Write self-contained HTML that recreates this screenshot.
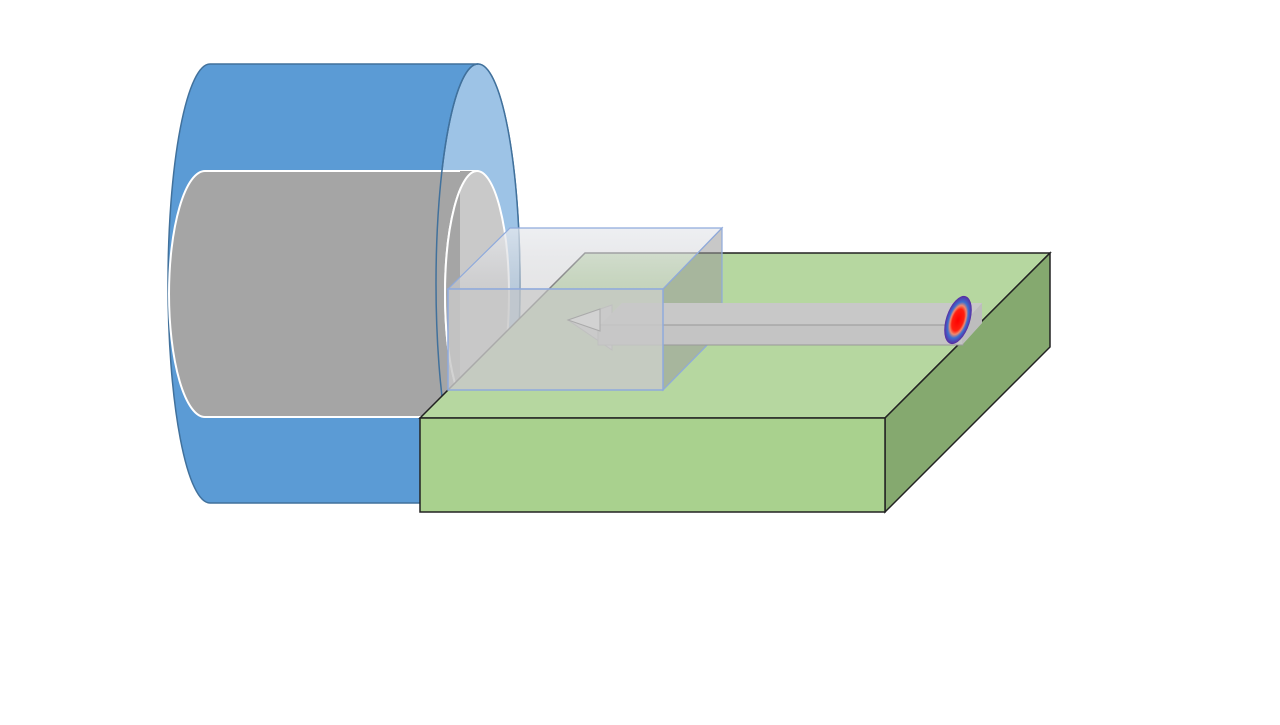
<!DOCTYPE html>
<html><head><style>html,body{margin:0;padding:0;background:#fff}</style></head><body>
<svg width="1280" height="720" viewBox="0 0 1280 720" xmlns="http://www.w3.org/2000/svg">
<defs>
<radialGradient id="src" cx="0.5" cy="0.5" r="0.5">
<stop offset="0" stop-color="#ff0000"/><stop offset="0.45" stop-color="#ff2010"/><stop offset="0.6" stop-color="#f08a70"/><stop offset="0.75" stop-color="#3c6fd0"/><stop offset="1" stop-color="#5a2aa0"/>
</radialGradient>
<linearGradient id="boxtop" x1="0" y1="0" x2="0" y2="1"><stop offset="0" stop-color="#e8eaee" stop-opacity="0.75"/><stop offset="1" stop-color="#d0d0d2" stop-opacity="0.55"/></linearGradient>
</defs>
<!-- blue cylinder -->
<path d="M210,64 L478,64 A42,219.5 0 0 1 478,503 L210,503 A42,219.5 0 0 1 210,64 Z" fill="#5b9bd5" stroke="#41719c" stroke-width="1.5"/>
<ellipse cx="478" cy="283.5" rx="42" ry="219.5" fill="#9dc3e6" stroke="#41719c" stroke-width="1.5"/>
<!-- grey cylinder -->
<path d="M205,171 L477,171 L477,417 L205,417 A36,123 0 0 1 205,171 Z" fill="#a5a5a5" stroke="#fff" stroke-width="2"/>
<ellipse cx="477" cy="294" rx="32" ry="123" fill="#c9c9c9" stroke="#fff" stroke-width="2"/>
<path d="M477,171 A32,123 0 0 0 477,417 L460,417 L460,171 Z" fill="#a5a5a5"/>
<path d="M477,171 A32,123 0 0 0 477,417" fill="none" stroke="#fff" stroke-width="2"/>
<path d="M478,64 A42,219.5 0 0 0 478,503" fill="none" stroke="#41719c" stroke-width="1.5"/>
<!-- green box -->
<polygon points="420,418 585,253 1050,253 885,418" fill="#b6d7a0" stroke="#222" stroke-width="1.5"/>
<polygon points="885,418 1050,253 1050,347 885,512" fill="#85a96f" stroke="#222" stroke-width="1.5"/>
<rect x="420" y="418" width="465" height="94" fill="#a9d18e" stroke="#222" stroke-width="1.5"/>
<!-- transparent box -->
<polygon points="448,289 510,228 722,228 663,289" fill="url(#boxtop)" stroke="#8faadc" stroke-width="1.2"/>
<polygon points="663,289 722,228 722,330 663,390" fill="#9a9a9a" fill-opacity="0.55" stroke="#8faadc" stroke-width="1.2"/>
<!-- rod -->
<polygon points="568,320 612,305 612,350" fill="#cfcfcf" stroke="#999" stroke-width="1"/>
<polygon points="600,325 622,303 982,303 982,323 962,345" fill="#c8c8c8"/>
<rect x="598" y="325" width="365" height="20" fill="#c4c4c4" stroke="#999" stroke-width="1"/>
<polygon points="962,325 982,303 982,323 962,345" fill="#bdbdbd"/>
<rect x="448" y="289" width="215" height="101" fill="#c8c8c8" fill-opacity="0.82" stroke="#8faadc" stroke-width="1.5"/>
<polygon points="568,320 600,309 600,331" fill="#d2d2d2" stroke="#aaa" stroke-width="1"/>
<ellipse cx="958" cy="320" rx="12" ry="25" transform="rotate(18 958 320)" fill="url(#src)"/>
</svg>
</body></html>
